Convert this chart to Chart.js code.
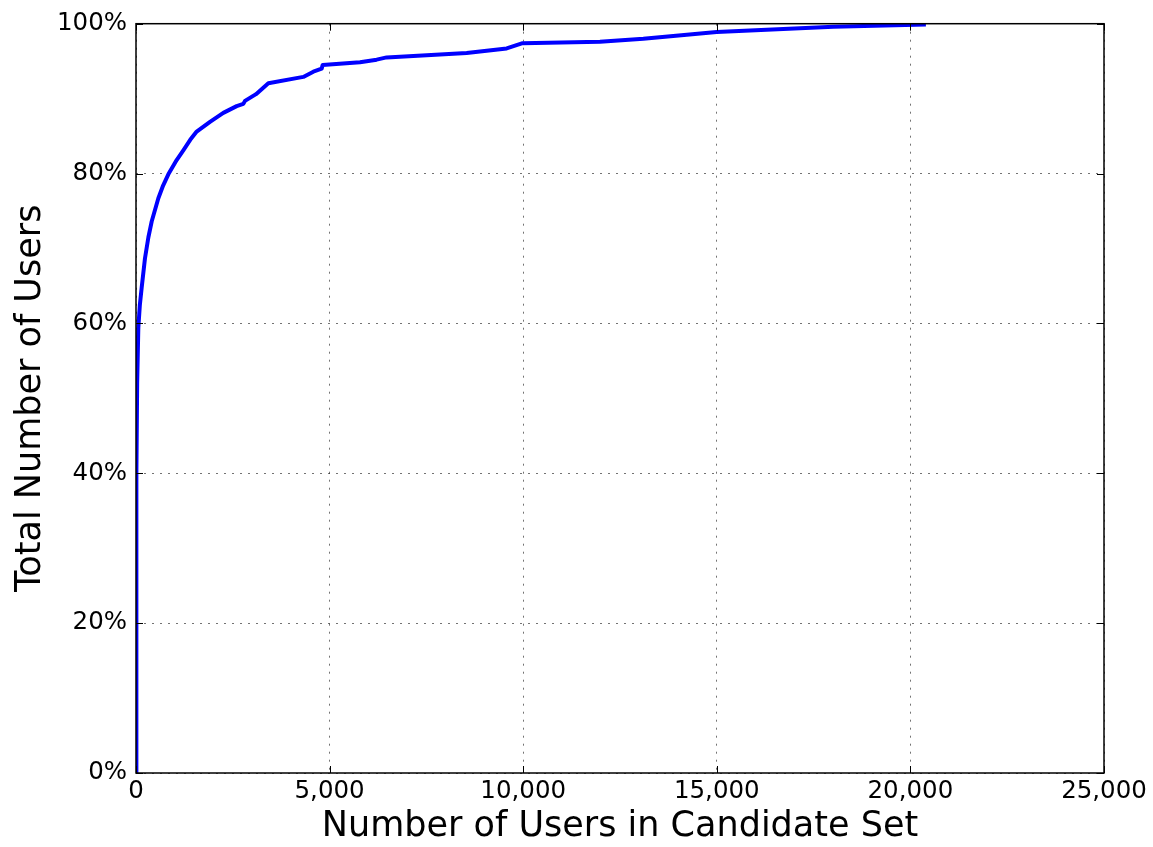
<!DOCTYPE html>
<html>
<head>
<meta charset="utf-8">
<script src="https://cdn.jsdelivr.net/npm/chart.js@4/dist/chart.umd.min.js"></script>
<style>
  html, body { margin: 0; padding: 0; background: #fff; }
  #wrap { width: 1153px; height: 847px; position: relative; }
</style>
</head>
<body>
<div id="wrap"><canvas id="c" width="1153" height="847"></canvas></div>
<script>
// Data
const candidateSetSize = [0, 5, 15, 30, 60, 100, 147, 232, 320, 405, 577, 700, 835, 1050, 1222, 1400, 1567, 1911, 2255, 2600, 2772, 2815, 3100, 3418, 4321, 4580, 4795, 4820, 5785, 6215, 6473, 8540, 9573, 9985, 11983, 13102, 14997, 18008, 20400];
const cumulativeUsersPct = [0, 20, 40, 52, 59.4, 62.5, 64.8, 68.7, 71.5, 73.6, 76.7, 78.4, 79.9, 81.8, 83.1, 84.5, 85.6, 86.9, 88.1, 89.0, 89.3, 89.7, 90.6, 92.05, 92.9, 93.6, 94.0, 94.5, 94.85, 95.2, 95.5, 96.1, 96.7, 97.4, 97.6, 98.0, 98.9, 99.6, 99.9];
const xTickValues = [0, 5000, 10000, 15000, 20000, 25000];
const yTickValues = [0, 20, 40, 60, 80, 100];
const xTitle = 'Number of Users in Candidate Set';
const yTitle = 'Total Number of Users';

const points = candidateSetSize.map((x, i) => ({ x: x, y: cumulativeUsersPct[i] }));

const frameAndTicks = {
  id: 'frameAndTicks',
  afterDatasetsDraw(chart) {
    const { ctx, chartArea: a, scales } = chart;
    ctx.save();
    ctx.strokeStyle = '#000';
    ctx.lineWidth = 1.5;
    ctx.strokeRect(a.left, a.top, a.right - a.left, a.bottom - a.top);
    const L = 7;
    ctx.lineWidth = 1;
    ctx.beginPath();
    xTickValues.forEach(v => {
      const px = Math.round(scales.x.getPixelForValue(v)) + 0.5;
      ctx.moveTo(px, a.bottom); ctx.lineTo(px, a.bottom - L);
      ctx.moveTo(px, a.top); ctx.lineTo(px, a.top + L);
    });
    yTickValues.forEach(v => {
      const py = Math.round(scales.y.getPixelForValue(v)) + 0.5;
      ctx.moveTo(a.left, py); ctx.lineTo(a.left + L, py);
      ctx.moveTo(a.right, py); ctx.lineTo(a.right - L, py);
    });
    ctx.stroke();
    ctx.restore();
  }
};

const FONT = "'DejaVu Sans', sans-serif";

new Chart(document.getElementById('c'), {
  type: 'line',
  data: {
    datasets: [{
      data: points,
      borderColor: '#0000ff',
      backgroundColor: '#0000ff',
      borderWidth: 4,
      pointRadius: 0,
      tension: 0,
      borderJoinStyle: 'round',
      fill: false
    }]
  },
  options: {
    responsive: false,
    animation: false,
    devicePixelRatio: 1,
    layout: { padding: { top: 22, right: 49, left: 0, bottom: 0 } },
    plugins: { legend: { display: false }, tooltip: { enabled: false } },
    scales: {
      x: {
        type: 'linear',
        min: 0, max: 25000,
        afterFit: s => { s.height = 74; },
        afterBuildTicks: s => { s.ticks = xTickValues.map(v => ({ value: v })); },
        ticks: {
          color: '#000',
          font: { family: FONT, size: 24.5 },
          padding: 4,
          maxRotation: 0,
          callback: v => v.toLocaleString('en-US')
        },
        grid: {
          drawTicks: false,
          color: 'rgba(0,0,0,0.55)',
          lineWidth: 1
        },
        border: { display: false, dash: [2, 6] },
        title: {
          display: true,
          text: xTitle,
          color: '#000',
          font: { family: FONT, size: 35, lineHeight: 1 },
          padding: { top: 0, bottom: 3 }
        }
      },
      y: {
        type: 'linear',
        min: 0, max: 100,
        afterFit: s => { s.width = 136; },
        afterBuildTicks: s => { s.ticks = yTickValues.map(v => ({ value: v })); },
        ticks: {
          color: '#000',
          font: { family: FONT, size: 24.5 },
          padding: 9,
          callback: v => v + '%'
        },
        grid: {
          drawTicks: false,
          color: 'rgba(0,0,0,0.55)',
          lineWidth: 1
        },
        border: { display: false, dash: [2, 6] },
        title: {
          display: true,
          text: yTitle,
          color: '#000',
          font: { family: FONT, size: 35, lineHeight: 1 },
          padding: { top: 13, bottom: 0 }
        }
      }
    }
  },
  plugins: [frameAndTicks]
});
</script>
</body>
</html>
